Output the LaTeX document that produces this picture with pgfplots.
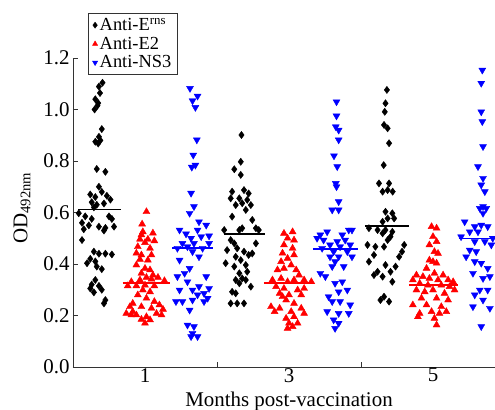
\documentclass[border=0pt]{standalone}
\usepackage{pgfplots}
\pgfplotsset{compat=1.18}
\usepackage{fontspec}
\setmainfont{Liberation Serif}

\begin{document}
\begin{tikzpicture}
\begin{axis}[
    scale only axis,
    width=432bp, height=309bp,
    xmin=0, xmax=6,
    ymin=0, ymax=1.2,
    axis x line*=bottom,
    axis y line*=left,
    axis line style={black!80, line width=0.8pt},
    tick align=inside,
    major tick length=5bp,
    tick style={black!80, line width=0.8pt},
    xtick={2,4},
    xticklabels={},
    extra x ticks={1,3,5},
    extra x tick labels={1,3,5},
    extra x tick style={major tick length=0pt, xticklabel style={inner sep=1pt}},
    ytick={0,0.2,0.4,0.6,0.8,1.0,1.2},
    yticklabel style={/pgf/number format/fixed, /pgf/number format/fixed zerofill, /pgf/number format/precision=1},
    /pgf/number format/assume math mode=true,
    tick label style={font=\fontsize{21}{24}\selectfont},
    xlabel={Months post-vaccination},
    ylabel={OD\textsubscript{492nm}},
    label style={font=\fontsize{21}{24}\selectfont},
    xlabel style={at={(axis description cs:0.5,-0.112)}, anchor=center},
    ylabel style={at={(axis description cs:-0.118,0.515)}, anchor=center, rotate=0},
    legend style={at={(0.035,1.146)}, anchor=north west, draw=black!80, line width=0.8pt,
        font=\fontsize{18.5}{20}\selectfont, inner xsep=4pt, inner ysep=3pt, row sep=1pt},
    legend cell align=left,
    legend image post style={line width=0.4pt, mark size=3bp},
]

\addplot[only marks, mark=diamond*, mark size=3.6bp, black, mark options={fill=black}] coordinates {
(0.41,1.104) (0.36,1.089) (0.375,1.064) (0.31,1.04) (0.35,1.025) (0.30,1.00) (0.34,1.015) (0.40,0.924) (0.36,0.894) (0.31,0.875) (0.35,0.868) (0.38,0.88) (0.33,0.769) (0.45,0.758) (0.36,0.70) (0.24,0.67) (0.31,0.66) (0.40,0.68) (0.47,0.665) (0.26,0.64) (0.33,0.63) (0.43,0.635) (0.52,0.65) (0.29,0.62) (0.08,0.597) (0.17,0.585) (0.26,0.575) (0.50,0.585) (0.54,0.575) (0.125,0.56) (0.22,0.55) (0.36,0.545) (0.45,0.54) (0.57,0.545) (0.15,0.535) (0.43,0.53) (0.125,0.493) (0.29,0.448) (0.36,0.44) (0.45,0.44) (0.54,0.437) (0.24,0.42) (0.31,0.41) (0.195,0.403) (0.33,0.39) (0.40,0.38) (0.31,0.338) (0.26,0.32) (0.36,0.315) (0.24,0.305) (0.40,0.30) (0.29,0.29) (0.45,0.26) (0.43,0.247)
(2.34,0.901) (2.33,0.797) (2.24,0.768) (2.33,0.746) (2.21,0.681) (2.375,0.687) (2.44,0.674) (2.19,0.655) (2.31,0.655) (2.42,0.649) (2.26,0.629) (2.35,0.636) (2.47,0.629) (2.40,0.61) (2.21,0.584) (2.49,0.571) (2.35,0.539) (2.54,0.539) (2.10,0.532) (2.31,0.532) (2.58,0.532) (2.19,0.493) (2.24,0.48) (2.54,0.48) (2.28,0.461) (2.14,0.454) (2.375,0.448) (2.44,0.435) (2.49,0.441) (2.26,0.428) (2.33,0.415) (2.12,0.403) (2.40,0.396) (2.24,0.39) (2.42,0.37) (2.31,0.364) (2.35,0.344) (2.26,0.338) (2.40,0.338) (2.31,0.325) (2.47,0.312) (2.21,0.292) (2.26,0.286) (2.19,0.247) (2.28,0.247) (2.375,0.247)
(4.36,1.076) (4.34,1.024) (4.33,0.991) (4.32,0.94) (4.37,0.927) (4.39,0.869) (4.315,0.784) (4.25,0.713) (4.39,0.713) (4.30,0.681) (4.37,0.687) (4.44,0.681) (4.34,0.603) (4.435,0.597) (4.37,0.577) (4.46,0.577) (4.30,0.564) (4.11,0.539) (4.23,0.532) (4.34,0.532) (4.435,0.525) (4.30,0.519) (4.41,0.506) (4.37,0.493) (4.09,0.474) (4.20,0.467) (4.32,0.467) (4.60,0.474) (4.57,0.448) (4.18,0.435) (4.53,0.428) (4.11,0.409) (4.34,0.396) (4.48,0.39) (4.23,0.37) (4.41,0.37) (4.30,0.351) (4.435,0.331) (4.18,0.357) (4.27,0.26) (4.39,0.254) (4.32,0.273)
};
\addlegendentry{Anti-E\textsuperscript{rns}}

\addplot[only marks, mark=triangle*, mark size=4bp, red, mark options={fill=red}] coordinates {
(1.02,0.603) (0.96,0.555) (0.97,0.525) (1.11,0.52) (0.95,0.513) (0.93,0.496) (1.04,0.496) (1.13,0.49) (1.0,0.483) (0.90,0.467) (1.07,0.461) (0.88,0.442) (0.95,0.435) (1.09,0.435) (0.93,0.418) (1.04,0.415) (0.88,0.396) (1.0,0.383) (1.07,0.377) (0.95,0.364) (1.11,0.357) (1.02,0.348) (1.18,0.348) (0.81,0.331) (0.93,0.338) (1.09,0.341) (1.27,0.335) (0.76,0.315) (0.88,0.315) (1.0,0.318) (1.13,0.315) (0.97,0.299) (1.07,0.292) (0.90,0.28) (1.02,0.267) (0.83,0.247) (1.13,0.254) (1.20,0.241) (0.79,0.234) (0.95,0.234) (1.09,0.228) (1.25,0.224) (0.83,0.215) (1.16,0.208) (0.74,0.208) (0.88,0.202) (1.23,0.202) (1.02,0.195) (0.95,0.185) (1.07,0.183) (1.0,0.17) (0.81,0.202)
(3.05,0.525) (2.93,0.519) (2.98,0.50) (3.07,0.493) (2.93,0.474) (3.05,0.461) (2.91,0.442) (3.07,0.435) (2.98,0.422) (2.84,0.377) (2.93,0.383) (3.10,0.377) (2.77,0.338) (2.89,0.344) (2.98,0.331) (3.07,0.338) (3.21,0.338) (3.31,0.331) (2.82,0.312) (2.93,0.305) (3.12,0.299) (3.21,0.305) (2.87,0.286) (3.0,0.28) (3.17,0.28) (2.96,0.26) (3.07,0.247) (2.75,0.234) (2.87,0.228) (3.17,0.228) (3.03,0.215) (2.80,0.215) (3.21,0.208) (2.96,0.189) (3.07,0.195) (3.0,0.17) (3.05,0.157) (2.98,0.15) (3.12,0.17) (2.89,0.409) (3.03,0.396) (3.14,0.357) (2.91,0.273)
(4.98,0.545) (5.05,0.539) (5.0,0.506) (5.05,0.487) (4.95,0.474) (5.02,0.448) (5.07,0.441) (4.95,0.415) (5.0,0.409) (5.05,0.403) (4.91,0.383) (5.02,0.364) (5.14,0.357) (4.77,0.357) (4.86,0.351) (4.72,0.338) (4.95,0.344) (5.07,0.338) (5.21,0.338) (5.28,0.331) (4.815,0.325) (4.93,0.318) (5.115,0.318) (5.23,0.312) (4.77,0.299) (4.885,0.292) (5.0,0.299) (5.16,0.286) (5.30,0.299) (4.84,0.267) (5.05,0.267) (5.21,0.26) (4.72,0.241) (4.91,0.241) (5.115,0.234) (4.98,0.215) (5.185,0.215) (4.815,0.208) (5.02,0.189) (5.05,0.163) (4.79,0.195) (5.09,0.208)
};
\addlegendentry{Anti-E2}

\addplot[only marks, mark=triangle*, mark size=4bp, blue, mark options={fill=blue, rotate=180}] coordinates {
(1.625,1.082) (1.73,1.052) (1.66,1.034) (1.70,1.008) (1.72,0.882) (1.67,0.823) (1.70,0.784) (1.65,0.776) (1.64,0.675) (1.68,0.623) (1.62,0.597) (1.75,0.564) (1.85,0.551) (1.48,0.532) (1.73,0.532) (1.89,0.509) (1.57,0.517) (1.64,0.50) (1.78,0.506) (1.52,0.48) (1.68,0.48) (1.89,0.48) (1.45,0.461) (1.59,0.467) (1.66,0.448) (1.80,0.461) (1.48,0.415) (1.75,0.428) (1.62,0.383) (1.55,0.364) (1.45,0.351) (1.85,0.351) (1.59,0.331) (1.75,0.312) (1.66,0.299) (1.89,0.305) (1.48,0.299) (1.73,0.28) (1.82,0.286) (1.87,0.267) (1.66,0.26) (1.43,0.254) (1.52,0.254) (1.82,0.254) (1.62,0.221) (1.59,0.163) (1.68,0.157) (1.66,0.131) (1.73,0.118) (1.64,0.118)
(3.66,1.03) (3.66,0.975) (3.65,0.933) (3.69,0.92) (3.69,0.882) (3.625,0.82) (3.67,0.778) (3.65,0.713) (3.66,0.70) (3.69,0.642) (3.60,0.61) (3.69,0.61) (3.435,0.513) (3.53,0.525) (3.74,0.513) (3.83,0.532) (3.875,0.532) (3.39,0.50) (3.48,0.493) (3.67,0.487) (3.78,0.493) (3.57,0.474) (3.71,0.467) (3.85,0.474) (3.46,0.461) (3.62,0.448) (3.81,0.448) (3.57,0.428) (3.69,0.428) (3.875,0.428) (3.64,0.409) (3.76,0.39) (3.60,0.39) (3.435,0.364) (3.505,0.351) (3.64,0.325) (3.74,0.331) (3.81,0.299) (3.69,0.292) (3.55,0.273) (3.60,0.254) (3.71,0.254) (3.85,0.241) (3.53,0.215) (3.69,0.208) (3.83,0.208) (3.62,0.183) (3.69,0.17) (3.64,0.15)
(5.685,1.153) (5.67,1.102) (5.67,0.991) (5.685,0.953) (5.695,0.856) (5.625,0.778) (5.695,0.733) (5.67,0.707) (5.72,0.681) (5.695,0.623) (5.65,0.616) (5.74,0.616) (5.695,0.597) (5.44,0.564) (5.58,0.545) (5.67,0.551) (5.76,0.545) (5.51,0.525) (5.625,0.525) (5.39,0.506) (5.83,0.50) (5.58,0.487) (5.72,0.487) (5.81,0.474) (5.51,0.454) (5.60,0.448) (5.46,0.428) (5.58,0.409) (5.67,0.403) (5.76,0.383) (5.555,0.364) (5.695,0.344) (5.79,0.351) (5.65,0.299) (5.76,0.299) (5.58,0.28) (5.695,0.26) (5.555,0.234) (5.79,0.228) (5.67,0.157)
};
\addlegendentry{Anti-NS3}

% group means
\addplot[black, line width=1.3pt, forget plot] coordinates {(0.07,0.613) (0.67,0.613)};
\addplot[black, line width=1.3pt, forget plot] coordinates {(2.10,0.517) (2.67,0.517)};
\addplot[black, line width=1.3pt, forget plot] coordinates {(4.055,0.548) (4.67,0.548)};
\addplot[red, line width=1.3pt, forget plot] coordinates {(0.69,0.326) (1.35,0.326)};
\addplot[red, line width=1.3pt, forget plot] coordinates {(2.65,0.326) (3.33,0.326)};
\addplot[red, line width=1.3pt, forget plot] coordinates {(4.67,0.318) (5.35,0.318)};
\addplot[blue, line width=1.3pt, forget plot] coordinates {(1.375,0.462) (1.94,0.462)};
\addplot[blue, line width=1.3pt, forget plot] coordinates {(3.33,0.458) (3.96,0.458)};
\addplot[blue, line width=1.3pt, forget plot] coordinates {(5.36,0.50) (5.95,0.50)};

\end{axis}
\pgfresetboundingbox
\path[use as bounding box] (-73bp,-43bp) rectangle (422bp,367bp);
\end{tikzpicture}
\end{document}
